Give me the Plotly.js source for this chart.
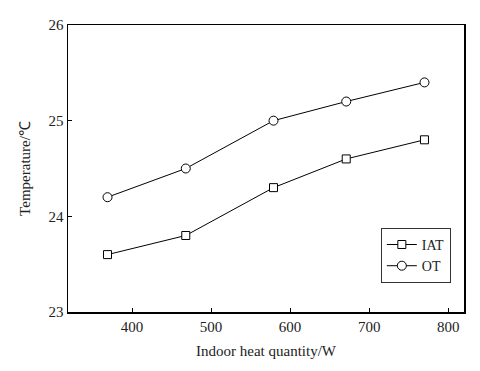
<!DOCTYPE html>
<html>
<head>
<meta charset="utf-8">
<script src="https://cdn.plot.ly/plotly-3.0.1.min.js"></script>
<style>
  html, body { margin: 0; padding: 0; background: #fff; }
  #chart { width: 480px; height: 371px; }
</style>
</head>
<body>
<div id="chart"></div>
<script>
// datos
const calor = [369, 468, 579, 671, 770];
const iat = [23.6, 23.8, 24.3, 24.6, 24.8];
const ot = [24.2, 24.5, 25.0, 25.2, 25.4];

const FUENTE = 'Liberation Serif, Times New Roman, serif';

const serie = (nombre, y, simbolo, tam) => ({
  x: calor,
  y,
  type: 'scatter',
  mode: 'lines+markers',
  name: nombre,
  line: { color: '#000', width: 1 },
  marker: { symbol: simbolo, size: tam, color: '#fff', line: { color: '#000', width: 1 } }
});

const traces = [
  serie('IAT', iat, 'square', 8),
  serie('OT', ot, 'circle', 9)
];

const ejeComun = {
  showline: true,
  linecolor: '#000',
  linewidth: 1.5,
  mirror: true,
  showgrid: false,
  zeroline: false,
  ticks: 'inside',
  ticklen: 4,
  tickcolor: '#000',
  tickfont: { family: FUENTE, size: 15, color: '#222' }
};

const layout = {
  width: 480,
  height: 371,
  margin: { l: 68, r: 16, t: 25, b: 59 },
  paper_bgcolor: '#fff',
  plot_bgcolor: '#fff',
  font: { family: FUENTE, color: '#222' },
  showlegend: true,
  legend: {
    x: 0.79, y: 0.293, xanchor: 'left', yanchor: 'top',
    bgcolor: '#fff', bordercolor: '#333', borderwidth: 1,
    font: { family: FUENTE, size: 14, color: '#222' },
    itemwidth: 30,
    tracegroupgap: 0
  },
  xaxis: {
    ...ejeComun,
    range: [319, 820],
    tickvals: [400, 500, 600, 700, 800],
    title: { text: 'Indoor heat quantity/W', font: { family: FUENTE, size: 15, color: '#222' }, standoff: 12 }
  },
  yaxis: {
    ...ejeComun,
    range: [23, 26],
    tickvals: [23, 24, 25, 26],
    title: { text: 'Temperature/℃', font: { family: FUENTE, size: 15, color: '#222' }, standoff: 14 }
  }
};

Plotly.newPlot('chart', traces, layout, { displayModeBar: false, staticPlot: true });
</script>
</body>
</html>
